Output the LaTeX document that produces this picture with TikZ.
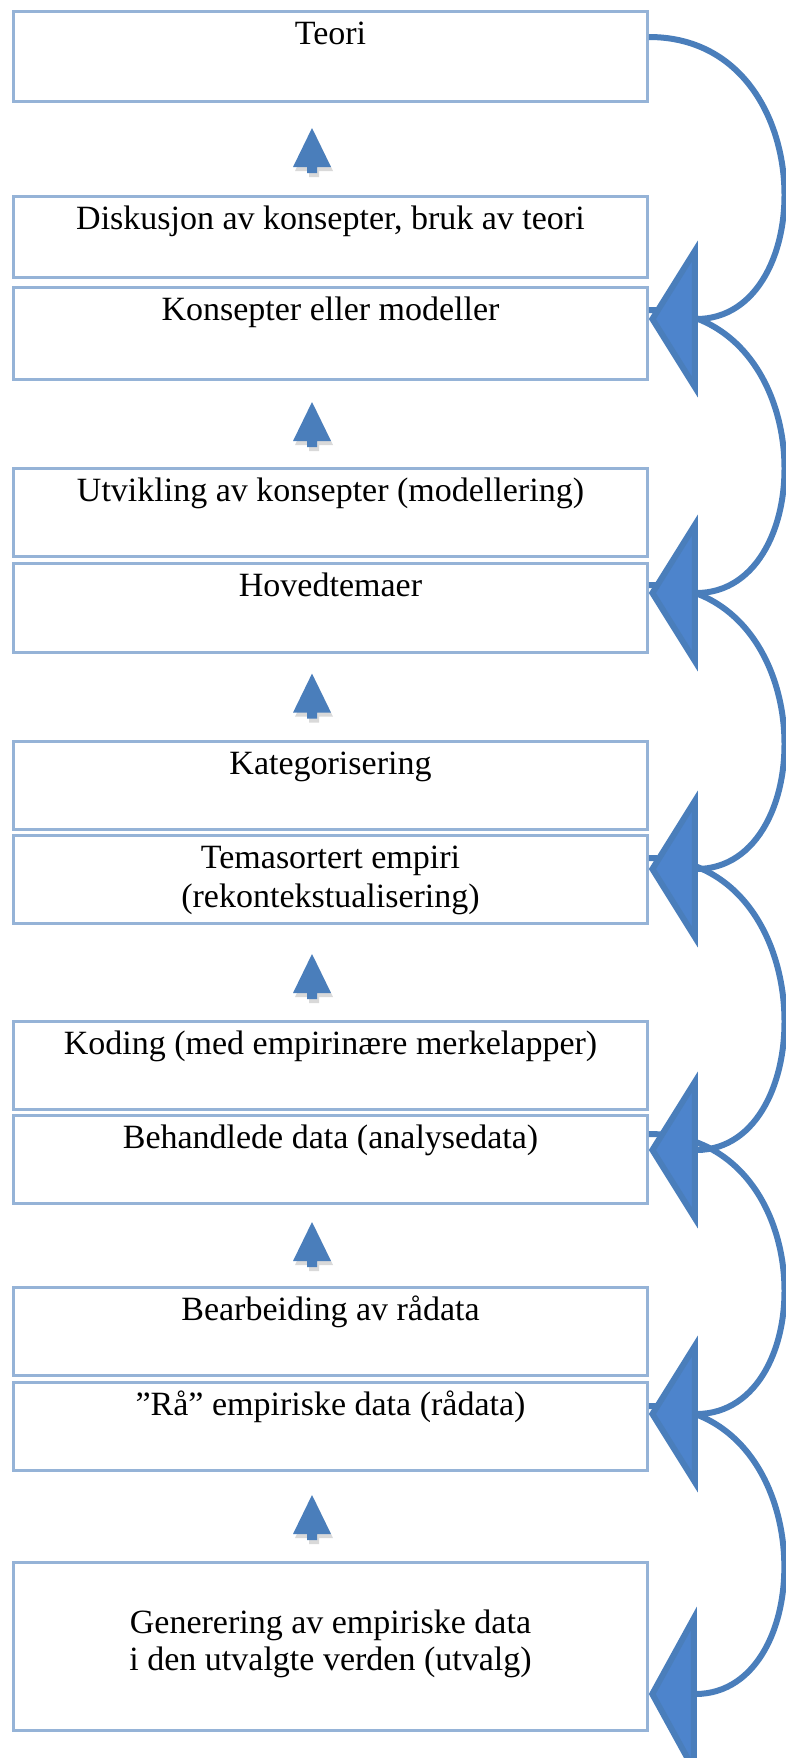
\documentclass[tikz,border=0pt]{standalone}
\usepackage{fontspec}
\setmainfont{Liberation Serif}
\usetikzlibrary{arrows.meta,calc,shadows}
\definecolor{boxblue}{HTML}{95B3D7}
\definecolor{arcblue}{HTML}{4A7EBB}
\definecolor{headblue}{HTML}{4D84CC}
\tikzset{stage/.style = {draw=boxblue, line width=1.65pt, fill=white, minimum width=316.7pt, inner xsep=0pt, inner ysep=0pt, align=center, text height=16.5pt, text depth=#1, font=\fontsize{17}{19.5}\selectfont}}
\tikzset{backarc/.style = {draw=arcblue, line width=3pt, -{Triangle[length=24.5pt,width=78pt,fill=headblue]}}}
\tikzset{uparrow/.style = {fill=arcblue, drop shadow={shadow xshift=1pt, shadow yshift=-2pt, opacity=0.3}}}

\begin{document}
\begin{tikzpicture}[x=0.5pt,y=-0.5pt]
          \useasboundingbox (0,0) rectangle (786,1758);

          \node[stage=28.35pt] (teori) at (330.5,56.5) {Teori};
          \node[stage=23.85pt] (diskusjon) at (330.5,237) {Diskusjon av konsepter, bruk av teori};
          \node[stage=29.35pt] (konsepter) at (330.5,333.5) {Konsepter eller modeller};
          \node[stage=27.35pt] (utvikling) at (330.5,512.5) {Utvikling av konsepter (modellering)};
          \node[stage=27.85pt] (hovedtemaer) at (330.5,608) {Hovedtemaer};
          \node[stage=27.35pt] (kategorisering) at (330.5,785.5) {Kategorisering};
          \node[stage=7.85pt, text height=36pt] (temasortert) at (330.5,879.5) {Temasortert empiri\\(rekontekstualisering)};
          \node[stage=27.35pt] (koding) at (330.5,1065.5) {Koding (med empirinære merkelapper)};
          \node[stage=27.35pt] (behandlede) at (330.5,1159.5) {Behandlede data (analysedata)};
          \node[stage=27.35pt] (bearbeiding) at (330.5,1331.5) {Bearbeiding av rådata};
          \node[stage=27.35pt] (raadata) at (330.5,1426.5) {”Rå” empiriske data (rådata)};
          \node[stage=30.15pt, text height=53.7pt, font=\fontsize{17}{18.5}\selectfont] (generering) at (330.5,1646.5) {Generering av empiriske data\\i den utvalgte verden (utvalg)};

          \foreach \t in {128,402,673.6,954,1222,1495}
            \fill[uparrow] (312,\t) -- (331,\t+39) -- (317,\t+39) -- (317,\t+45) -- (307,\t+45) -- (307,\t+39) -- (293,\t+39) -- cycle;

          \draw[backarc, -{Triangle[length=24pt,width=87pt,fill=headblue]}] ($(raadata.north east)+(0,25)$) .. controls +(172,0) and +(172,0) .. ($(generering.north east)+(0,133)$);
          \draw[backarc] ($(behandlede.north east)+(0,20)$) .. controls +(172,0) and +(172,0) .. ($(raadata.north east)+(0,33)$);
          \draw[backarc] ($(temasortert.north east)+(0,24)$) .. controls +(172,0) and +(172,0) .. ($(behandlede.north east)+(0,36)$);
          \draw[backarc] ($(hovedtemaer.north east)+(0,23)$) .. controls +(172,0) and +(172,0) .. ($(temasortert.north east)+(0,35)$);
          \draw[backarc] ($(konsepter.north east)+(0,24)$) .. controls +(172,0) and +(172,0) .. ($(hovedtemaer.north east)+(0,31)$);
          \draw[backarc] ($(teori.north east)+(0,27)$) .. controls +(172,0) and +(172,0) .. ($(konsepter.north east)+(0,33)$);
        \end{tikzpicture}
\end{document}
